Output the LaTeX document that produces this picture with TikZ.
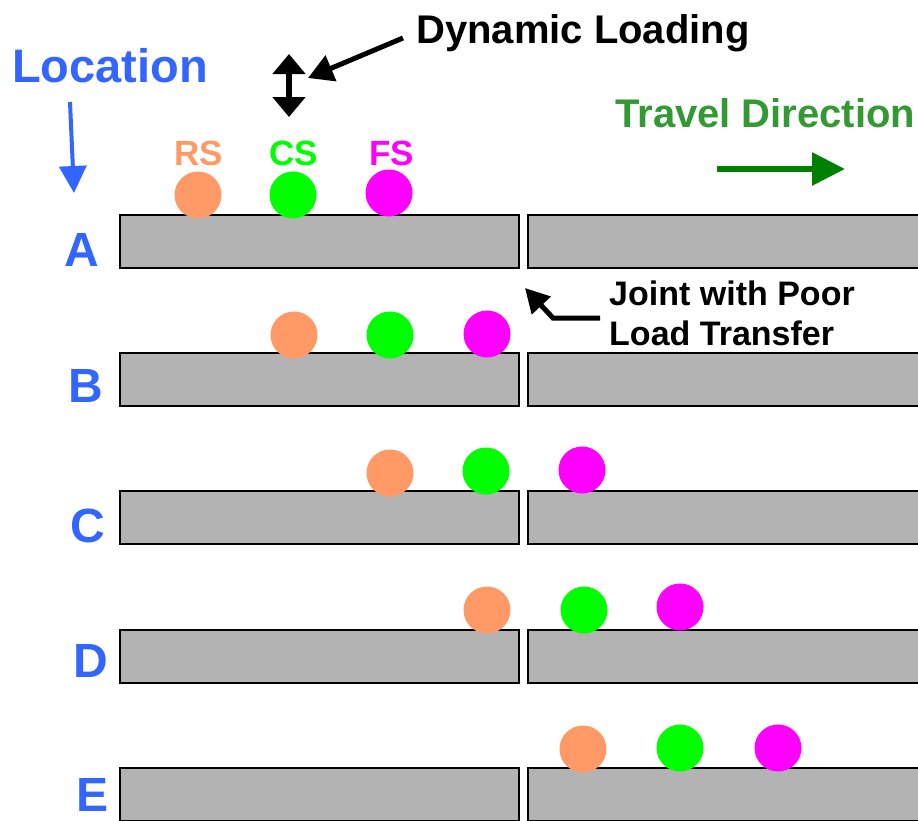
\documentclass[tikz,border=0pt]{standalone}
\usepackage{fontspec}
\setmainfont{Liberation Sans}
\usetikzlibrary{arrows.meta}
\definecolor{locblue}{HTML}{3366FF}
\definecolor{rsorange}{HTML}{FF9966}
\definecolor{csgreen}{HTML}{00FF00}
\definecolor{fsmagenta}{HTML}{FF00FF}
\definecolor{travgreen}{HTML}{339933}
\definecolor{arrgreen}{HTML}{008000}
\definecolor{slabgray}{HTML}{B3B3B3}
\tikzset{
  slab/.style={fill=slabgray,draw=black,line width=1.2pt},
  slabshadow/.style={draw=black,line width=2.6pt},
  wheel/.style={circle,minimum size=47pt,inner sep=0pt,draw=none},
  rowlabel/.style={anchor=base west,inner sep=0pt,text=locblue,font=\fontsize{48}{56}\selectfont\bfseries},
  axlelabel/.style={anchor=base west,inner sep=0pt,font=\fontsize{35}{42}\selectfont\bfseries},
  bigtext/.style={anchor=base west,inner sep=0pt,font=\fontsize{40}{46}\selectfont\bfseries},
}
\begin{document}
\begin{tikzpicture}[x=1pt,y=-1pt]
\useasboundingbox (0,0) rectangle (918,820);
\clip (0,0) rectangle (918,820);
% slabs
\foreach \t/\r in {215/A,353/B,491/C,630/D,768/E}{
  \draw[slab] (120,\t) rectangle (519,\t+53);
  \draw[slabshadow] (120,\t+53) -- (519,\t+53) -- (519,\t);
  \draw[slab] (528,\t) rectangle (935,\t+53);
  \draw[slabshadow] (528,\t+53) -- (935,\t+53);
}
% wheels
\node[wheel,fill=rsorange] (rsA) at (198,195) {};
\node[wheel,fill=csgreen] (csA) at (293,195) {};
\node[wheel,fill=fsmagenta] (fsA) at (389,193) {};
\node[wheel,fill=rsorange] (rsB) at (294,335) {};
\node[wheel,fill=csgreen] (csB) at (390,335) {};
\node[wheel,fill=fsmagenta] (fsB) at (487,334) {};
\node[wheel,fill=rsorange] (rsC) at (390,473) {};
\node[wheel,fill=csgreen] (csC) at (486,471) {};
\node[wheel,fill=fsmagenta] (fsC) at (582,470) {};
\node[wheel,fill=rsorange] (rsD) at (487,610) {};
\node[wheel,fill=csgreen] (csD) at (584,610) {};
\node[wheel,fill=fsmagenta] (fsD) at (680,607) {};
\node[wheel,fill=rsorange] (rsE) at (583,749) {};
\node[wheel,fill=csgreen] (csE) at (680,748) {};
\node[wheel,fill=fsmagenta] (fsE) at (778,748) {};
% axle labels
\node[axlelabel,text=rsorange] (rs) at (174,165) {RS};
\node[axlelabel,text=csgreen] (cs) at (269,165) {CS};
\node[axlelabel,text=fsmagenta] (fs) at (369,165) {FS};
% row labels
\node[rowlabel] (lA) at (64,266) {A};
\node[rowlabel] (lB) at (68,402) {B};
\node[rowlabel] (lC) at (70,542) {C};
\node[rowlabel] (lD) at (73,677) {D};
\node[rowlabel] (lE) at (76,811) {E};
% titles
\node[anchor=base west,inner sep=0pt,text=locblue,font=\fontsize{47}{56}\selectfont\bfseries] (loc) at (12,82) {Location};
\node[bigtext] (dyn) at (416,43) {Dynamic Loading};
\node[bigtext,text=travgreen] (trav) at (615,127) {Travel Direction};
\node[anchor=base west,inner sep=0pt,font=\fontsize{34}{40}\selectfont\bfseries,align=left] (joint1) at (609,305) {Joint with Poor};
\node[anchor=base west,inner sep=0pt,font=\fontsize{34}{40}\selectfont\bfseries,align=left] (joint2) at (609,345) {Load Transfer};
% arrows
\coordinate (locS) at (70,102);
\coordinate (locE) at (74,193);
\draw[locblue,line width=4pt,-{Triangle[length=27pt,width=27pt]}] (locS) -- (locE);
\coordinate (dlT) at (289,54);
\coordinate (dlB) at (289,117);
\draw[black,line width=6pt,{Triangle[length=20pt,width=32pt]}-{Triangle[length=20pt,width=32pt]}] (dlT) -- (dlB);
\coordinate (dynS) at (403,38);
\coordinate (dynE) at (308,78);
\draw[black,line width=5pt,-{Triangle[length=25pt,width=27pt]}] (dynS) -- (dynE);
\coordinate (jS) at (600,318);
\coordinate (jM) at (553,318);
\coordinate (jE) at (525,288);
\draw[black,line width=5pt,-{Triangle[length=24pt,width=25pt]}] (jS) -- (jM) -- (jE);
\coordinate (tS) at (717,169);
\coordinate (tE) at (845,169);
\draw[arrgreen,line width=6pt,-{Triangle[length=33pt,width=32pt]}] (tS) -- (tE);
\end{tikzpicture}
\end{document}
